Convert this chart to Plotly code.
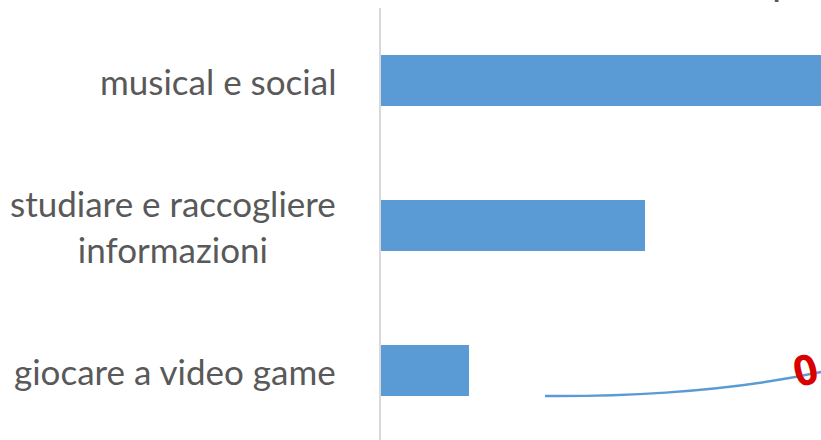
import plotly.graph_objects as go

# Activities (bottom to top) and share of time
categories = ["giocare a video game", "studiare e raccogliere<br>informazioni", "musical e social"]
values = [10, 30, 60]

BAR_COLOR = "#5b9bd5"
TEXT_COLOR = "#595959"
FONT = "Lato, 'Open Sans', sans-serif"

W, H = 821, 440
L, T = 381, 8

fig = go.Figure()
fig.add_trace(go.Bar(
    x=values, y=categories, orientation="h",
    marker=dict(color=BAR_COLOR, line=dict(width=0)),
    width=0.352, hoverinfo="skip",
))

# category labels, centred multi-line text right-aligned to the axis
for cat in categories:
    fig.add_annotation(
        x=(338 - L) / (W - L), xref="paper", y=cat, yref="y",
        text=cat, showarrow=False, xanchor="right", yanchor="middle",
        align="center", font=dict(family=FONT, size=35, color=TEXT_COLOR),
    )

# bottom of the (mostly hidden) chart title
fig.add_annotation(
    x=(783 - L) / (W - L), xref="paper", y=(H - 6) / (H - T), yref="paper",
    text="p", showarrow=False, xanchor="center", yanchor="bottom",
    font=dict(family=FONT, size=40, color=TEXT_COLOR),
)

# hand-drawn style accent line
def px(xp, yp):
    return f"{(xp - L) / (W - L):.4f},{(H - yp) / (H - T):.4f}"

fig.add_shape(
    type="path", xref="paper", yref="paper",
    path=f"M {px(545, 396)} Q {px(705, 397)} {px(826, 371)}",
    line=dict(color=BAR_COLOR, width=2.5),
)
fig.add_annotation(
    x=(805 - L) / (W - L), xref="paper", y=(H - 368) / (H - T), yref="paper",
    text="<b>0</b>", showarrow=False, textangle=-14,
    xanchor="center", yanchor="middle",
    font=dict(family="'Open Sans', sans-serif", size=42, color="#d90000"),
)

fig.update_layout(
    width=W, height=H,
    margin=dict(l=L, r=0, t=T, b=0),
    paper_bgcolor="white", plot_bgcolor="white",
    showlegend=False,
    xaxis=dict(range=[0, 50], visible=False, fixedrange=True),
    yaxis=dict(
        type="category", categoryorder="array", categoryarray=categories,
        range=[-0.479, 2.5], showticklabels=False, showgrid=False,
        showline=True, linecolor="#d9d9d9", linewidth=2, zeroline=False,
        fixedrange=True,
    ),
)

fig.write_html("out.html", config={"displayModeBar": False})
